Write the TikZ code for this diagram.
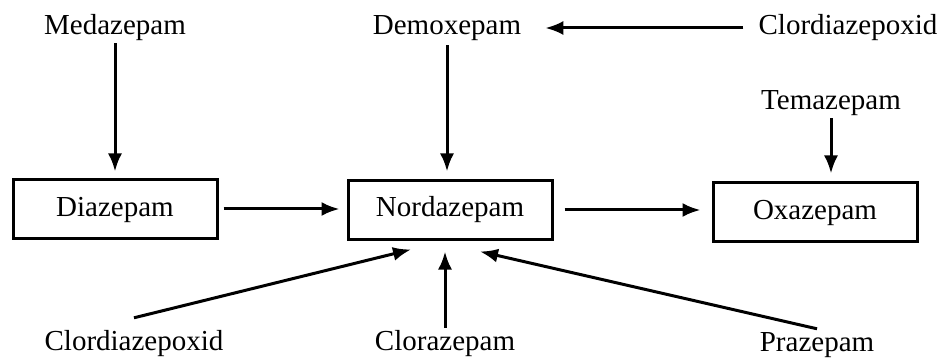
\documentclass[tikz,border=0pt]{standalone}
\usepackage{fontspec}
\setmainfont{Liberation Serif}
\usetikzlibrary{arrows.meta}

\tikzset{
  drug/.style={inner sep=2pt, text height=20pt, text depth=6pt, font=\fontsize{29}{34}\selectfont},
  drugbox/.style={drug, draw, line width=3pt, minimum width=204pt, minimum height=58pt},
  conv/.style={line width=3pt, -{Latex[length=18pt,width=14pt]}}
}

\begin{document}
\begin{tikzpicture}[x=1pt,y=-1pt]
    \useasboundingbox (0,0) rectangle (942,358);
    \node[drug] (medaz) at (115,28) {Medazepam};
    \node[drug] (demox) at (447,28) {Demoxepam};
    \node[drug] (clordT) at (848,28) {Clordiazepoxid};
    \node[drug] (temaz) at (831,103) {Temazepam};
    \node[drugbox] (diaz) at (115,209) {Diazepam};
    \node[drugbox] (nordaz) at (450,210) {Nordazepam};
    \node[drugbox] (oxaz) at (815,212) {Oxazepam};
    \node[drug] (clordB) at (134,343) {Clordiazepoxid};
    \node[drug] (cloraz) at (445,343) {Clorazepam};
    \node[drug] (praz) at (817,344) {Prazepam};
    \draw[conv, shorten >=7pt] (medaz.south) -- (medaz.south |- diaz.north);
    \draw[conv, shorten <=5pt, shorten >=7pt] (diaz.east) -- (diaz.east -| nordaz.west);
    \draw[conv, shorten <=11pt, shorten >=11pt] (nordaz.east) -- (nordaz.east -| oxaz.west);
    \draw[conv, shorten <=2pt, shorten >=8pt] (demox.south) -- (demox.south |- nordaz.north);
    \draw[conv, shorten <=13pt, shorten >=22pt] (clordT.west) -- (demox.east);
    \draw[conv, shorten >=8pt] (temaz.south) -- (temaz.south |- oxaz.north);
    \draw[conv] ([yshift=10pt]clordB.north) -- ([xshift=-39pt,yshift=-9pt]nordaz.south);
    \draw[conv] (cloraz.north) -- ([yshift=-11pt]cloraz.north |- nordaz.south);
    \draw[conv] ([yshift=0pt]praz.north) -- ([xshift=30pt,yshift=-11pt]nordaz.south);
\end{tikzpicture}
\end{document}
